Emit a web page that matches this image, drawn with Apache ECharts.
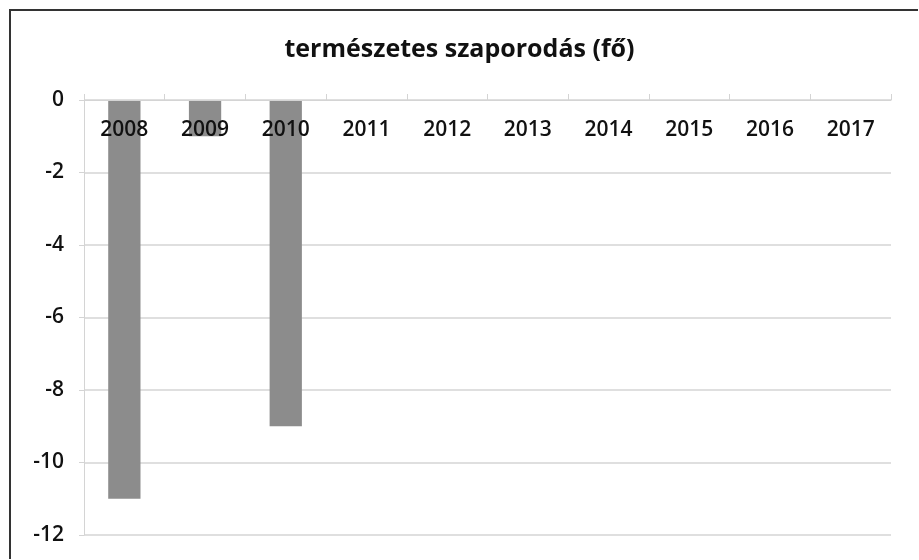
<!DOCTYPE html>
<html>
<head>
<meta charset="utf-8">
<script src="https://cdn.jsdelivr.net/npm/echarts@6/dist/echarts.min.js"></script>
<style>
html, body { margin: 0; padding: 0; background: #fff; }
#chart { width: 919px; height: 560px; }
</style>
</head>
<body>
<div id="chart"></div>
<script>
// adatok
var years = ['2008', '2009', '2010', '2011', '2012', '2013', '2014', '2015', '2016', '2017'];
var values = [-11, -1, -9, null, null, null, null, null, null, null];
var yTicks = [0, -2, -4, -6, -8, -10, -12];

var chart = echarts.init(document.getElementById('chart'));
var gridColor = '#d4d4d4';

chart.setOption({
    backgroundColor: '#fff',
    animation: false,
    title: {
        text: 'természetes szaporodás (fő)',
        left: 'center',
        top: 32,
        textStyle: {fontFamily: 'Open Sans', fontWeight: 'bold', fontSize: 25, color: '#111'}
    },
    graphic: [{
        type: 'polyline',
        shape: {points: [[918, 10], [10, 10], [10, 559]]},
        style: {stroke: '#333', lineWidth: 2, fill: null}
    }],
    grid: {left: 84, right: 28, top: 100, bottom: 25},
    xAxis: {
        type: 'category',
        data: years,
        position: 'top',
        z: 5,
        axisLine: {onZero: false, lineStyle: {color: gridColor}},
        axisTick: {show: true, length: 6, lineStyle: {color: gridColor}},
        axisLabel: {
            inside: true,
            margin: 20,
            color: '#111',
            fontFamily: 'Open Sans',
            fontWeight: 600,
            fontSize: 21
        }
    },
    yAxis: {
        type: 'value',
        min: yTicks[yTicks.length - 1],
        max: yTicks[0],
        interval: 2,
        axisLine: {show: true, lineStyle: {color: gridColor}},
        axisTick: {show: true, length: 5, lineStyle: {color: gridColor}},
        splitLine: {lineStyle: {color: gridColor, width: 1.5}},
        axisLabel: {
            margin: 20,
            color: '#111',
            fontFamily: 'Open Sans',
            fontWeight: 600,
            fontSize: 21
        }
    },
    series: [{
        type: 'bar',
        data: values,
        barWidth: '40%',
        itemStyle: {color: '#8c8c8c'}
    }]
});
</script>
</body>
</html>
